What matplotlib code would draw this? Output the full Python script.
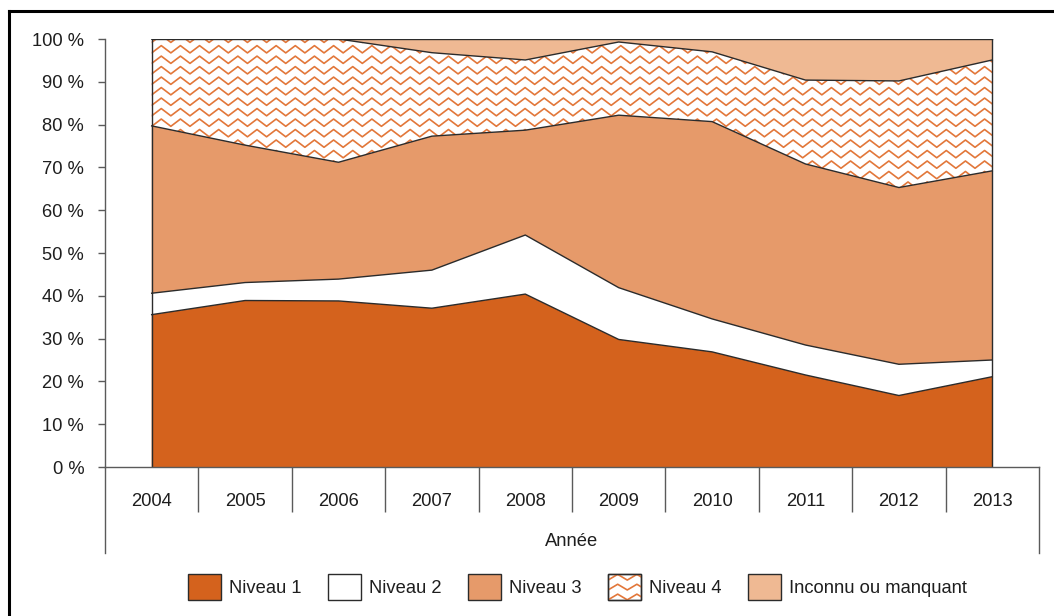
import numpy as np
import matplotlib
matplotlib.use("Agg")
import matplotlib.pyplot as plt
from matplotlib.patches import Rectangle, Polygon
from matplotlib.lines import Line2D
from matplotlib.legend_handler import HandlerBase

plt.rcParams['font.family'] = ['Liberation Sans', 'DejaVu Sans']

# data (percent of each year)
years = ['2004', '2005', '2006', '2007', '2008', '2009', '2010', '2011', '2012', '2013']
niveau1 = [35.6, 38.9, 38.8, 37.1, 40.4, 29.8, 26.9, 21.5, 16.7, 21.1]
niveau2 = [5.0, 4.2, 5.1, 8.9, 13.8, 12.1, 7.7, 7.0, 7.3, 3.9]
niveau3 = [39.1, 32.1, 27.3, 31.3, 24.5, 40.3, 46.1, 42.3, 41.3, 44.2]
niveau4 = [20.3, 24.8, 28.8, 19.5, 16.4, 17.1, 16.3, 19.6, 24.9, 25.9]
inconnu = [0.0, 0.0, 0.0, 3.2, 4.9, 0.7, 3.0, 9.6, 9.8, 4.9]

labels = ['Niveau 1', 'Niveau 2', 'Niveau 3', 'Niveau 4', 'Inconnu ou manquant']
colors = ['#d4621d', '#ffffff', '#e69a6a', '#ffffff', '#efb993']
zig_color = '#e2773a'
edge_color = '#2b2b2b'
axis_color = '#5a5a5a'
text_color = '#1e1e1e'
fs = 13.2

series = [niveau1, niveau2, niveau3, niveau4, inconnu]
x = np.arange(len(years))
cum = np.vstack([np.zeros(len(x))] + [np.cumsum(series, axis=0)[i] for i in range(len(series))])

fig = plt.figure(figsize=(10.54, 6.16), dpi=100)
ax = fig.add_axes([105 / 1054, 1 - 467 / 616, (1039 - 105) / 1054, (467 - 39) / 616])

for i in range(len(series)):
    ax.fill_between(x, cum[i], cum[i + 1], facecolor=colors[i], edgecolor='none', zorder=1)


def zigzag_lines(x0, x1, y0, y1, period, row, amp):
    # list of (xs, ys) zigzag polylines covering a box
    xs = np.arange(x0 - period, x1 + period, period / 2)
    out = []
    yy = y0 - row
    while yy < y1 + row:
        ys = yy + np.where(np.arange(len(xs)) % 2 == 0, 0, amp)
        out.append((xs, ys))
        yy += row
    return out


# zigzag pattern of Niveau 4, clipped to its area
verts = list(zip(x, cum[3])) + list(zip(x[::-1], cum[4][::-1]))
clip = Polygon(verts, closed=True, transform=ax.transData)
for xs, ys in zigzag_lines(0, 9, 60, 100, 0.205, 2.45, 1.7):
    ln, = ax.plot(xs, ys, color=zig_color, lw=1.2, zorder=1.5)
    ln.set_clip_path(clip)

# outlines
for i in range(1, len(cum)):
    ax.plot(x, cum[i], color=edge_color, lw=1.0, zorder=2)
ax.plot([0, 0], [0, 100], color=edge_color, lw=1.0, zorder=2)
ax.plot([9, 9], [0, 100], color=edge_color, lw=1.0, zorder=2)

ax.set_xlim(-0.5, 9.5)
ax.set_ylim(0, 100)
ax.spines['top'].set_visible(False)
ax.spines['right'].set_visible(False)
for s in ['left', 'bottom']:
    ax.spines[s].set_color(axis_color)
    ax.spines[s].set_linewidth(1.0)

ax.set_yticks(np.arange(0, 101, 10))
ax.set_yticklabels([f'{v} %' for v in range(0, 101, 10)])
ax.tick_params(axis='y', length=5, width=1.0, color=axis_color, pad=10,
               labelsize=fs, labelcolor=text_color)

ax.set_xticks(x)
ax.set_xticklabels(years)
ax.set_xticks(np.arange(0.5, 9, 1), minor=True)
ax.tick_params(axis='x', which='major', length=0, pad=18.5, labelsize=fs, labelcolor=text_color)
ax.tick_params(axis='x', which='minor', length=32.4, width=1.0, color=axis_color)

# category axis extensions
ext = -86 / 428
for xa in [0, 1]:
    ax.add_line(Line2D([xa, xa], [0, ext], transform=ax.transAxes, color=axis_color,
                       lw=1.0, clip_on=False))

ax.text(0.5, -74 / 428, 'Année', transform=ax.transAxes, ha='center', va='center',
        fontsize=fs, color=text_color)


class HandlerZigzag(HandlerBase):
    def create_artists(self, legend, orig_handle, xdescent, ydescent, width, height,
                       fontsize, trans):
        x0, y0 = -xdescent, -ydescent
        rect = Rectangle((x0, y0), width, height, facecolor='white',
                         edgecolor=edge_color, lw=1.0, transform=trans)
        artists = [rect]
        clipr = Rectangle((x0, y0), width, height, transform=trans)
        for xs, ys in zigzag_lines(x0, x0 + width, y0, y0 + height,
                                   width / 1.7, height / 2.6, height / 4.5):
            ln = Line2D(xs, ys, color=zig_color, lw=1.2, transform=trans)
            ln.set_clip_path(clipr)
            artists.append(ln)
        border = Rectangle((x0, y0), width, height, facecolor='none',
                           edgecolor=edge_color, lw=1.0, transform=trans)
        artists.append(border)
        return artists


handles = []
for i, lab in enumerate(labels):
    handles.append(Rectangle((0, 0), 1, 1, facecolor=colors[i], edgecolor=edge_color, lw=1.0))

fig.legend(handles, labels, loc='center', bbox_to_anchor=(577.5 / 1054, 29 / 616),
           ncol=5, frameon=False, fontsize=fs, handlelength=1.78, handleheight=1.78,
           handletextpad=0.45, columnspacing=1.45, borderpad=0, labelcolor=text_color,
           handler_map={handles[3]: HandlerZigzag()})

# outer frame (left and top)
fig.add_artist(Line2D([9 / 1054, 9 / 1054], [0, 1 - 11 / 616], transform=fig.transFigure,
                      color='black', lw=2.2))
fig.add_artist(Line2D([9 / 1054, 1], [1 - 11 / 616, 1 - 11 / 616], transform=fig.transFigure,
                      color='black', lw=2.2))

fig.savefig('out.png', dpi=100)
